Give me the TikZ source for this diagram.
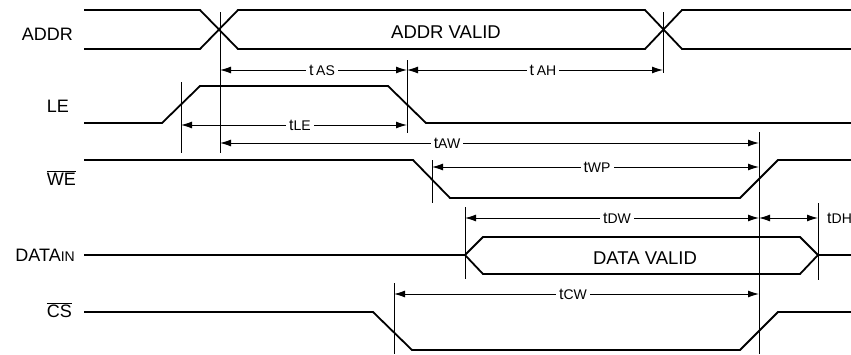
\documentclass[tikz,border=0pt]{standalone}
\usepackage{fontspec}
\setmainfont{Liberation Sans}
\usetikzlibrary{arrows.meta}
\newcommand\tsub[1]{{\fontsize{14}{14}\selectfont #1}}

\begin{document}
\begin{tikzpicture}[x=1pt, y=-1pt,
    sig/.style  = {line width=1.8pt, line join=miter},% signal traces
    vbar/.style = {line width=1pt},% reference lines
    dim/.style  = {line width=1pt,
                   {Latex[length=11pt,width=7pt]}-{Latex[length=11pt,width=7pt]}},
    pin/.style  = {anchor=base east, inner sep=0pt,
                   font=\fontsize{18}{18}\selectfont},
    bus/.style  = {anchor=base, inner sep=0pt,
                   font=\fontsize{18.5}{18.5}\selectfont},
    tlbl/.style = {fill=white, inner xsep=3pt, inner ysep=1pt,
                   font=\fontsize{16}{16}\selectfont},
                        ]
\clip (0,0) rectangle (851,354);
% signal names
\node[pin] (nADDR) at (73,40)  {ADDR};
\node[pin] (nLE)   at (69,112) {LE};
\node[pin] (nWE)   at (76,185) {$\overline{\mbox{WE}}$};
\node[pin] (nDIN)  at (75,261) {DATA\tsub{IN}};
\node[pin] (nCS)   at (72,317) {$\overline{\mbox{CS}}$};
% ADDR
\draw[sig] (84,10) -- (200,10) -- (238,49) -- (645,49) -- (682,10) -- (851,10);
\draw[sig] (84,49) -- (200,49) -- (238,10) -- (645,10) -- (682,49) -- (851,49);
\node[bus] (vADDR) at (446,38) {ADDR VALID};
% LE
\draw[sig] (84,123) -- (162,123) -- (200,86) -- (388,86) -- (426,123) -- (851,123);
% WE
\draw[sig] (84,160) -- (413,160) -- (450,198) -- (740,198) -- (778,160) -- (851,160);
% DATA IN
\draw[sig] (84,255) -- (465,255) -- (483,237) -- (800,237) -- (818,255) -- (851,255);
\draw[sig] (465,255) -- (483,274) -- (800,274) -- (818,255);
\node[bus] (vDATA) at (645,264) {DATA VALID};
% CS
\draw[sig] (84,312) -- (373,312) -- (412,350) -- (740,350) -- (778,312) -- (851,312);
% reference lines
\foreach \n/\x/\a/\b in {le/181/82/153, as/220/12/153, ah/407/60/133, ad/663/12/73,
                         wp/432/160/203, dw/465/207/279, cw/394/283/354,
                         wr/759/132/354, dh/818/203/280}
{
    \coordinate (\n) at (\x,0);
    \draw[vbar] (\x,\a) -- (\x,\b);
}
% timing dimensions
\draw[dim] (as |- 0,70)  -- (ah |- 0,70);
\draw[dim] (ah |- 0,70)  -- (ad |- 0,70);
\draw[dim] (le |- 0,125) -- (ah |- 0,125);
\draw[dim] (as |- 0,143) -- (wr |- 0,143);
\draw[dim] (wp |- 0,167) -- (wr |- 0,167);
\draw[dim] (dw |- 0,218) -- (wr |- 0,218);
\draw[dim] (wr |- 0,218) -- (dh |- 0,218);
\draw[dim] (cw |- 0,294) -- (wr |- 0,294);
% timing names
\node[tlbl] (tAS) at (322,70)  {t\,\tsub{AS}};
\node[tlbl] (tAH) at (543,70)  {t\,\tsub{AH}};
\node[tlbl] (tLE) at (300,125) {t\tsub{LE}};
\node[tlbl] (tAW) at (447,143) {t\tsub{AW}};
\node[tlbl] (tWP) at (597,167) {t\tsub{WP}};
\node[tlbl] (tDW) at (617,218) {t\tsub{DW}};
\node[tlbl, anchor=west] (tDH) at (824,218) {t\tsub{DH}};
\node[tlbl] (tCW) at (573,294) {t\tsub{CW}};
\end{tikzpicture}
\end{document}
